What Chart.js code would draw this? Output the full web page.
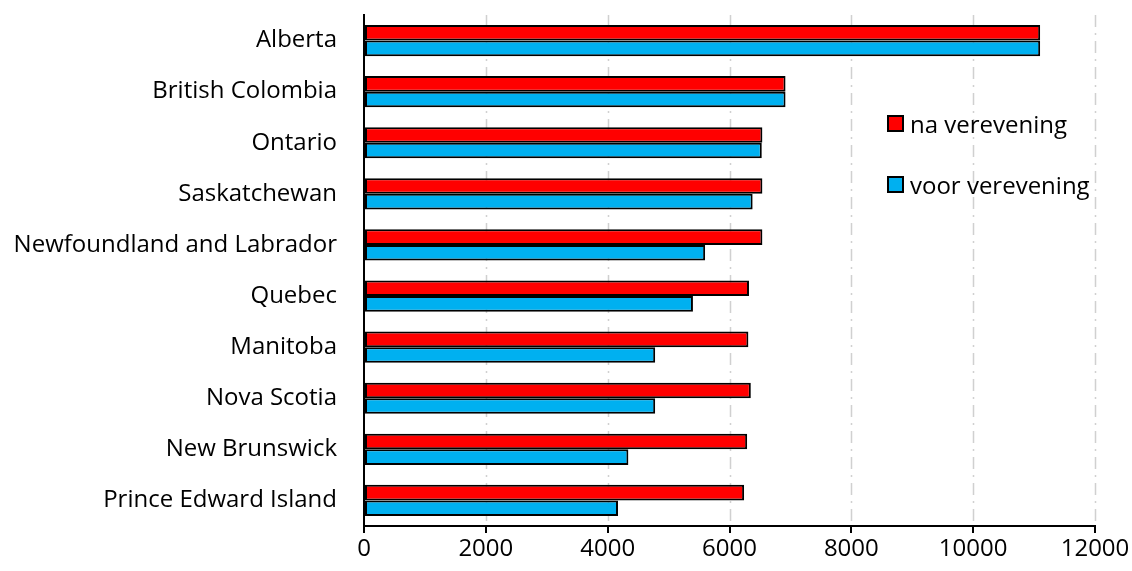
<!DOCTYPE html>
<html>
<head>
<meta charset="utf-8">
<script src="https://cdn.jsdelivr.net/npm/chart.js@4"></script>
<style>
    html, body { margin: 0; padding: 0; background: #fff; }
    .wrap { position: relative; width: 1132px; height: 571px; }
    .legend { position: absolute; left: 887px; top: 108px; font-family: 'Open Sans', sans-serif; font-size: 24px; color: #000; }
    .legend .item { display: flex; align-items: center; height: 30px; margin-bottom: 31px; }
    .legend .box { width: 13px; height: 13px; border: 2px solid #000; margin-right: 6px; }
</style>
</head>
<body>
<div class="wrap">
    <canvas id="provChart" width="1132" height="571"></canvas>
    <div class="legend">
        <div class="item"><span class="box" style="background:#ff0000"></span>na verevening</div>
        <div class="item"><span class="box" style="background:#00b0f0"></span>voor verevening</div>
    </div>
</div>
<script>
// Data
const provinces = ['Alberta', 'British Colombia', 'Ontario', 'Saskatchewan', 'Newfoundland and Labrador',
    'Quebec', 'Manitoba', 'Nova Scotia', 'New Brunswick', 'Prince Edward Island'];
const naVerevening = [11100, 6920, 6540, 6540, 6540, 6320, 6310, 6350, 6290, 6240];
const voorVerevening = [11100, 6920, 6530, 6380, 5600, 5400, 4780, 4780, 4340, 4170];
const xTicks = [0, 2000, 4000, 6000, 8000, 10000, 12000];

const font = { family: "'Open Sans', sans-serif", size: 24 };

new Chart(document.getElementById('provChart'), {
    type: 'bar',
    data: {
        labels: provinces,
        datasets: [{
            label: 'na verevening',
            data: naVerevening,
            backgroundColor: '#ff0000',
            borderColor: '#000',
            borderWidth: 2,
            borderSkipped: false
        }, {
            label: 'voor verevening',
            data: voorVerevening,
            backgroundColor: '#00b0f0',
            borderColor: '#000',
            borderWidth: 2,
            borderSkipped: false
        }]
    },
    options: {
        indexAxis: 'y',
        responsive: false,
        animation: false,
        layout: { padding: { top: 15, right: 37, left: 0, bottom: 0 } },
        datasets: { bar: { barPercentage: 1, categoryPercentage: 0.61 } },
        plugins: {
            legend: { display: false },
            tooltip: { enabled: false }
        },
        scales: {
            x: {
                min: 0,
                max: 12000,
                afterBuildTicks: (scale) => { scale.ticks = xTicks.map(v => ({ value: v })); },
                afterFit: (scale) => { scale.height = 45; scale.paddingLeft = 0; scale.paddingRight = 0; },
                border: { color: '#000', width: 2 },
                grid: {
                    drawOnChartArea: false,
                    tickColor: '#000',
                    tickLength: 7,
                    lineWidth: 2
                },
                ticks: {
                    color: '#000',
                    font: font,
                    padding: 2,
                    maxRotation: 0,
                    callback: (v) => String(v)
                }
            },
            y: {
                afterFit: (scale) => { scale.width = 364; scale.paddingTop = 0; scale.paddingBottom = 0; },
                border: { color: '#000', width: 2 },
                grid: { display: false, drawTicks: false },
                ticks: { color: '#000', font: font, padding: 27 }
            }
        }
    },
    plugins: [{
        id: 'dashGrid',
        beforeDatasetsDraw(chart) {
            // dash-dot vertical gridlines
            const ctx = chart.ctx;
            const area = chart.chartArea;
            const xs = chart.scales.x;
            ctx.save();
            ctx.strokeStyle = '#d0d0d0';
            ctx.lineWidth = 1.5;
            ctx.setLineDash([12, 6, 2, 6]);
            xTicks.slice(1).forEach(v => {
                const px = Math.round(xs.getPixelForValue(v)) + 0.5;
                ctx.beginPath();
                ctx.moveTo(px, area.top);
                ctx.lineTo(px, area.bottom);
                ctx.stroke();
            });
            ctx.restore();
        }
    }]
});
</script>
</body>
</html>
